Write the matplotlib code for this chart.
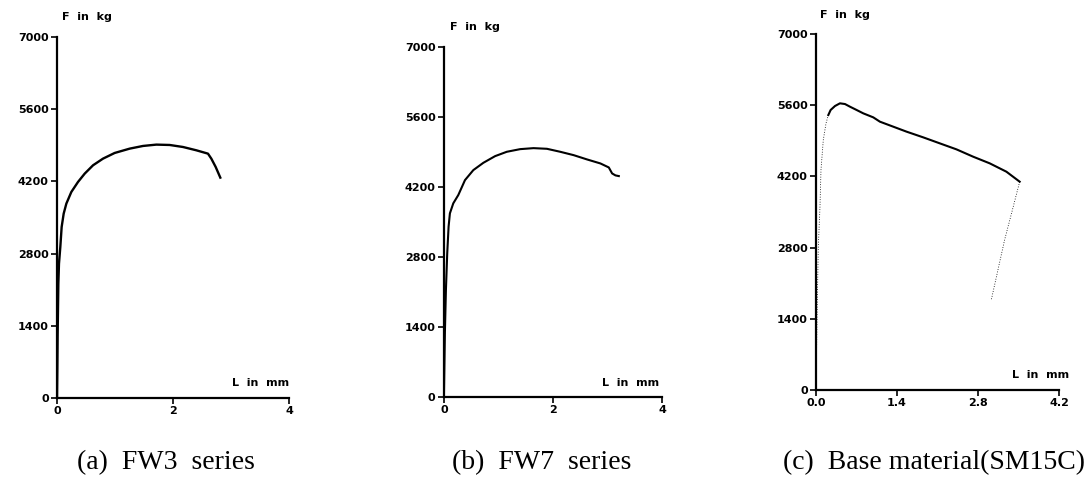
import matplotlib.pyplot as plt

# load-elongation curves
fw3_L = [0, 0.006, 0.011, 0.023, 0.034, 0.057, 0.080, 0.115, 0.161, 0.247, 0.362, 0.477, 0.621,
         0.793, 0.994, 1.253, 1.483, 1.713, 1.943, 2.172, 2.402, 2.603, 2.661, 2.736, 2.816]
fw3_F = [0, 601, 1248, 2217, 2605, 2928, 3316, 3575, 3769, 3995, 4189, 4350, 4512,
         4641, 4751, 4835, 4887, 4913, 4906, 4867, 4803, 4738, 4641, 4480, 4273]

fw7_L = [0, 0.018, 0.037, 0.061, 0.086, 0.110, 0.172, 0.264, 0.387, 0.540, 0.724, 0.939, 1.153,
         1.399, 1.644, 1.890, 2.135, 2.380, 2.626, 2.871, 3.025, 3.086, 3.147, 3.209]
fw7_F = [0, 1278, 2143, 2874, 3407, 3673, 3873, 4039, 4338, 4538, 4684, 4817, 4904,
         4957, 4977, 4964, 4904, 4837, 4751, 4671, 4591, 4471, 4432, 4418]

base_el_L = [0, 0.01, 0.023, 0.040, 0.069, 0.086, 0.126, 0.173, 0.213]
base_el_F = [0, 800, 1770, 2818, 3605, 4326, 4916, 5243, 5407]
base_pl_L = [0.213, 0.253, 0.328, 0.414, 0.501, 0.587, 0.702, 0.817, 0.990, 1.105, 1.335,
             1.565, 1.853, 2.140, 2.428, 2.716, 3.003, 3.291, 3.521]
base_pl_F = [5407, 5506, 5584, 5637, 5623, 5571, 5506, 5440, 5361, 5276, 5178,
             5080, 4968, 4850, 4732, 4588, 4457, 4293, 4096]
base_un_L = [3.521, 3.41, 3.26, 3.03]
base_un_F = [4096, 3605, 2949, 1770]

yticks = [0, 1400, 2800, 4200, 5600, 7000]
xticks_ab = [0, 2, 4]
xticks_c = [0.0, 1.4, 2.8, 4.2]
xlabels_c = ['0.0', '1.4', '2.8', '4.2']
captions = ['(a)  FW3  series', '(b)  FW7  series', '(c)  Base material(SM15C)']

fig = plt.figure(figsize=(10.88, 4.79), dpi=100)

def style(ax, xmax, xt, xl=None):
    ax.set_xlim(0, xmax)
    ax.set_ylim(0, 7000)
    for s in ['top', 'right']:
        ax.spines[s].set_visible(False)
    for s in ['left', 'bottom']:
        ax.spines[s].set_linewidth(1.6)
    ax.set_yticks(yticks)
    ax.set_xticks(xt)
    if xl is not None:
        ax.set_xticklabels(xl)
    ax.tick_params(direction='out', length=4, width=1.2, labelsize=8, pad=2)
    for lab in ax.get_xticklabels() + ax.get_yticklabels():
        lab.set_fontweight('bold')
    ax.patch.set_alpha(0)

ax1 = fig.add_axes([0.0524, 0.1691, 0.2132, 0.7537])
ax1.plot(fw3_L, fw3_F, color='black', lw=1.7)
style(ax1, 4, xticks_ab)

ax2 = fig.add_axes([0.408, 0.1712, 0.2004, 0.7307])
ax2.plot(fw7_L, fw7_F, color='black', lw=1.5)
style(ax2, 4, xticks_ab)

ax3 = fig.add_axes([0.75, 0.1858, 0.2233, 0.7432])
ax3.plot(base_el_L, base_el_F, color='black', lw=0.6, ls=(0, (1, 2)))
ax3.plot(base_pl_L, base_pl_F, color='black', lw=1.5)
ax3.plot(base_un_L, base_un_F, color='black', lw=0.6, ls=(0, (1, 2)))
style(ax3, 4.2, xticks_c, xlabels_c)

# axis annotations in pixel positions of the figure
W, H = 1088, 479
def ftext(x, y, s, **kw):
    fig.text(x / W, 1 - y / H, s, **kw)

small = dict(fontsize=8, fontweight='bold', va='center', ha='left')
ftext(62, 17, 'F  in  kg', **small)
ftext(232, 383, 'L  in  mm', **small)
ftext(450, 27, 'F  in  kg', **small)
ftext(602, 383, 'L  in  mm', **small)
ftext(820, 15, 'F  in  kg', **small)
ftext(1012, 375, 'L  in  mm', **small)

cap = dict(fontsize=20, family='Liberation Serif', va='center', ha='center')
ftext(166, 463, captions[0], **cap)
ftext(542, 463, captions[1], **cap)
ftext(934, 463, captions[2], **cap)

fig.savefig('out.png', dpi=100)
